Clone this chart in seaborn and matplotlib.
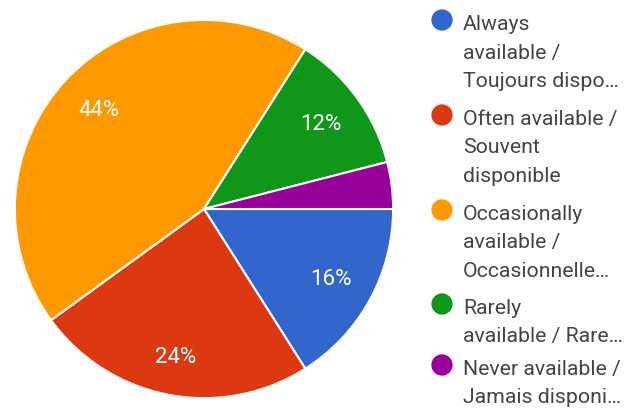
import matplotlib
matplotlib.use("Agg")
import matplotlib.pyplot as plt
import seaborn as sns

categories = [
    "Always available / Toujours disponible",
    "Often available / Souvent disponible",
    "Occasionally available / Occasionnellement disponible",
    "Rarely available / Rarement disponible",
    "Never available / Jamais disponible",
]
legend_lines = [
    ["Always", "available /", "Toujours dispo…"],
    ["Often available /", "Souvent", "disponible"],
    ["Occasionally", "available /", "Occasionnelle…"],
    ["Rarely", "available / Rare…"],
    ["Never available /", "Jamais disponi…"],
]
shares = [16, 24, 44, 12, 4]
colors = ["#3366CC", "#DC3912", "#FF9900", "#109618", "#990099"]

sns.set_theme(style="white")
plt.rcParams["font.family"] = ["Roboto", "DejaVu Sans"]

W, H = 630, 410
fig = plt.figure(figsize=(W / 100, H / 100), dpi=100)

# pie axes: centre (204, 210) px, radius 191 px
cx, cy, r = 204, 210, 191
ax = fig.add_axes([(cx - r) / W, (H - cy - r) / H, 2 * r / W, 2 * r / H])


def pct_label(p):
    return f"{p:.0f}%" if p >= 5 else ""


wedges, texts, autotexts = ax.pie(
    shares,
    colors=colors,
    startangle=0,
    counterclock=False,
    autopct=pct_label,
    pctdistance=0.765,
    radius=1,
    wedgeprops=dict(edgecolor="white", linewidth=1.5),
    textprops=dict(color="white", fontsize=16),
)
# the bottom label sits a little further out
x, y = autotexts[1].get_position()
autotexts[1].set_position((x * 1.04, y * 1.04))

ax.set_xlim(-1.01, 1.01)
ax.set_ylim(-1.01, 1.01)
ax.set_aspect("equal")
ax.axis("off")

# legend drawn in pixel coordinates
lax = fig.add_axes([0, 0, 1, 1])
lax.set_xlim(0, W)
lax.set_ylim(H, 0)
lax.axis("off")
marker_y = [21, 116, 211, 305, 366]
line_step = 28.5
for color, lines, y0 in zip(colors, legend_lines, marker_y):
    lax.scatter([442], [y0], s=235, color=color, edgecolor="none")
    for i, line in enumerate(lines):
        lax.text(463, y0 + 9 + i * line_step, line, fontsize=15.3, color="#444444",
                 va="baseline", ha="left")

fig.savefig("out.png", dpi=100)
